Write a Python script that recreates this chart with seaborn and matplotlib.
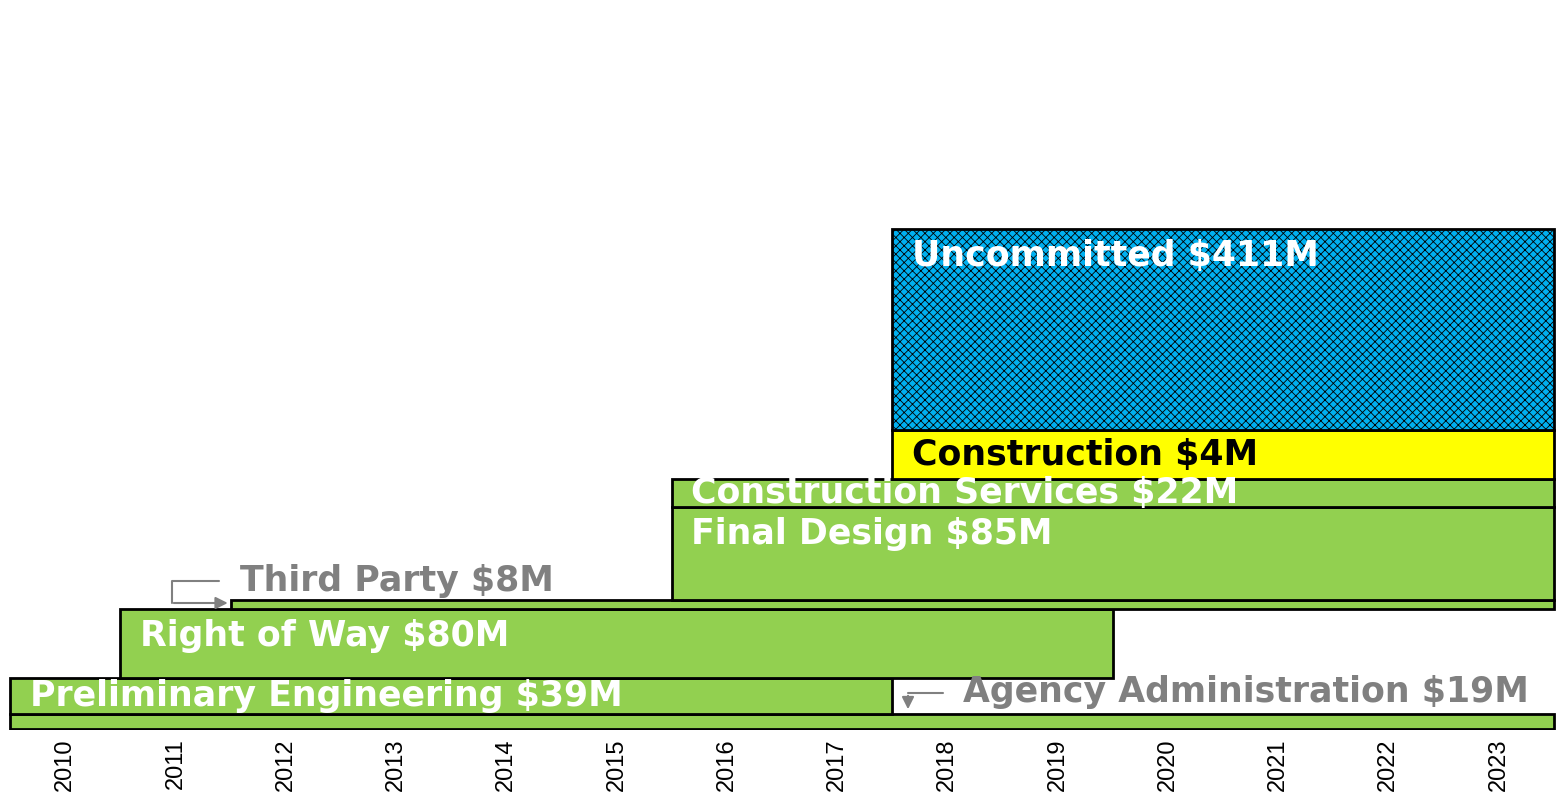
import numpy as np
import pandas as pd
import seaborn as sns
import matplotlib.pyplot as plt

# Phase data (amounts in $M, years inclusive)
phases = ['Agency Administration', 'Preliminary Engineering', 'Right of Way', 'Third Party',
          'Final Design', 'Construction Services', 'Construction', 'Uncommitted']
amounts = [19, 39, 80, 8, 85, 22, 4, 411]
start_years = [2010, 2010, 2011, 2012, 2016, 2016, 2018, 2018]
end_years = [2023, 2017, 2019, 2023, 2023, 2023, 2023, 2023]
years = list(range(2010, 2024))

# Layout: band thickness (stacked from the bottom) and colours
band_heights = [15, 36, 69, 9, 93, 28, 49, 201]
fill_colors = ['#92D050'] * 6 + ['#FFFF00', '#00B0F0']
hatches = [None] * 7 + ['xxxx']
label_colors = ['#808080', 'white', 'white', '#808080', 'white', 'white', 'black', 'white']

df = pd.DataFrame({'phase': phases, 'amount': amounts, 'start': start_years, 'end': end_years})
df['bottom'] = 1 + np.concatenate([[0], np.cumsum(band_heights)[:-1]])
df['height'] = band_heights

sns.set_style('white')
plt.rcParams['hatch.linewidth'] = 0.6

fig = plt.figure(figsize=(15.64, 7.96), dpi=100)
ax = fig.add_axes([0, 66 / 796, 1, 730 / 796])

for i, row in df.iterrows():
    ax.bar(row['start'] - 0.5, row['height'], width=row['end'] - row['start'] + 1,
           bottom=row['bottom'], align='edge', color=fill_colors[i],
           edgecolor='black', linewidth=2, hatch=hatches[i], zorder=2)

label_font = dict(fontsize=25, fontweight='bold', family='DejaVu Sans', va='center', ha='left')

# labels inside the bars
for i, row in df.iterrows():
    if row['phase'] in ('Third Party', 'Agency Administration'):
        continue
    top = row['bottom'] + row['height']
    y = top - min(row['height'] / 2, 27)
    ax.text(row['start'] - 0.5 + 0.18, y, f"{row['phase']} \\${row['amount']}M",
            color=label_colors[i], zorder=4, **label_font)

# outside labels with elbow arrows
tp = df[df['phase'] == 'Third Party'].iloc[0]
ax.text(2011.586, 149, f"Third Party \\${tp['amount']}M", color='#808080', **label_font)
ax.plot([2011.395, 2010.969, 2010.969], [149, 149, 127], color='#808080', lw=1.5)
ax.annotate('', xy=(tp['start'] - 0.5, 127), xytext=(2010.96, 127),
            arrowprops=dict(arrowstyle='-|>', color='#808080', lw=1.5, mutation_scale=18))

aa = df[df['phase'] == 'Agency Administration'].iloc[0]
ax.text(2018.144, 38, f"Agency Administration \\${aa['amount']}M", color='#808080', **label_font)
ax.annotate('', xy=(2017.645, 18), xytext=(2017.645, 37),
            arrowprops=dict(arrowstyle='-|>', color='#808080', lw=1.5, mutation_scale=18))
ax.plot([2017.962, 2017.645], [37, 37], color='#808080', lw=1.5)

ax.set_xlim(2009.409, 2023.595)
ax.set_ylim(0, 730)
ax.set_xticks(years)
ax.set_xticklabels([str(y) for y in years], rotation=90, fontsize=17,
                   family='Liberation Sans', va='top', color='black')
ax.tick_params(axis='x', length=0, pad=6)
ax.set_yticks([])
sns.despine(ax=ax, left=True, bottom=True)

fig.savefig('out.png', dpi=100)
